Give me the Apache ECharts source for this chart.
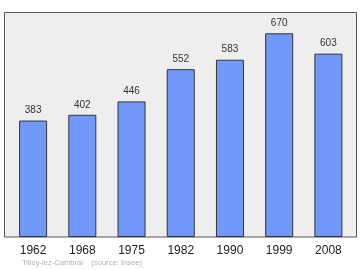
<!DOCTYPE html>
<html>
<head>
<meta charset="utf-8">
<script src="https://cdn.jsdelivr.net/npm/echarts@6/dist/echarts.min.js"></script>
<style>html,body{margin:0;padding:0;background:#fff;}#c{width:360px;height:270px;}</style>
</head>
<body>
<div id="c"></div>
<script>
var years = ['1962', '1968', '1975', '1982', '1990', '1999', '2008'];
var population = [383, 402, 446, 552, 583, 670, 603];
var sourceText = 'Tilloy-lez-Cambrai    (source: Insee)';

var chart = echarts.init(document.getElementById('c'), null, {renderer: 'canvas'});
chart.setOption({
  animation: false,
  backgroundColor: '#ffffff',
  graphic: [
    {type: 'rect', z: -10, shape: {x: 4.5, y: 12.5, width: 352, height: 224.5},
     style: {fill: '#eeeeee', stroke: '#555555', lineWidth: 1}},
    {type: 'text', left: 22, top: 259, style: {text: sourceText, fill: '#b0b0b0', fontSize: 7.6, fontFamily: 'Liberation Sans'}}
  ],
  grid: {left: 8.5, right: 7, top: 12, bottom: 33},
  xAxis: {
    type: 'category', data: years,
    axisLine: {show: false}, axisTick: {show: false},
    axisLabel: {color: '#222', fontSize: 12, margin: 8, fontFamily: 'Liberation Sans'}
  },
  yAxis: {
    type: 'value', min: 0, max: 740,
    show: false, splitLine: {show: false}
  },
  series: [{
    type: 'bar', data: population, barWidth: 28,
    itemStyle: {color: '#7099fb', borderColor: '#333333', borderWidth: 1},
    label: {show: true, position: 'top', distance: 5, color: '#333', fontSize: 10, fontFamily: 'Liberation Sans'}
  }]
});
</script>
</body>
</html>
